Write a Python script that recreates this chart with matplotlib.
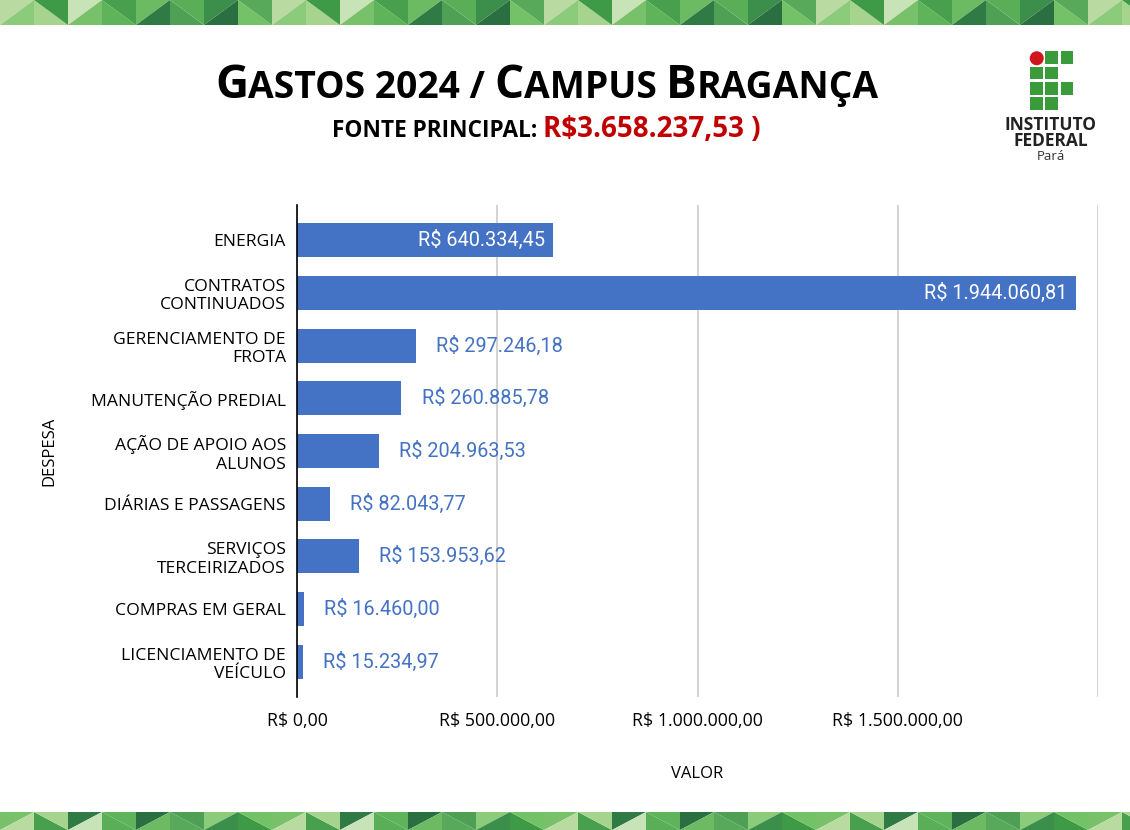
import matplotlib
matplotlib.use("Agg")
import matplotlib.pyplot as plt
from matplotlib.patches import Polygon, Rectangle, Circle
from matplotlib.ticker import FuncFormatter

# dados
categorias = ["ENERGIA", "CONTRATOS\nCONTINUADOS", "GERENCIAMENTO DE\nFROTA",
              "MANUTENÇÃO PREDIAL", "AÇÃO DE APOIO AOS\nALUNOS", "DIÁRIAS E PASSAGENS",
              "SERVIÇOS\nTERCEIRIZADOS", "COMPRAS EM GERAL", "LICENCIAMENTO DE\nVEÍCULO"]
valores = [640334.45, 1944060.81, 297246.18, 260885.78, 204963.53,
           82043.77, 153953.62, 16460.00, 15234.97]
ticks_x = [0, 500000, 1000000, 1500000]
total = "R$3.658.237,53 )"

AZUL = "#4472c4"
W, H = 1130, 830


def brl(v, casas=2):
    s = f"{v:,.{casas}f}"
    return "R$ " + s.replace(",", "X").replace(".", ",").replace("X", ".")


fig = plt.figure(figsize=(W / 100, H / 100), dpi=100)

# fundo / decoracao em coordenadas de pixel
bg = fig.add_axes([0, 0, 1, 1], zorder=0)
bg.set_xlim(0, W)
bg.set_ylim(H, 0)
bg.axis("off")

verdes = ["#b9dba1", "#8ccb7a", "#a6d48f", "#3f9a48", "#c9e3b8", "#79c06a",
          "#5fb35a", "#48a04f", "#6cbb62", "#2f7a45", "#4f9f55", "#5aae58",
          "#3c8f4a", "#2b6e42", "#74c267", "#58a95a"]


def faixa(y0, y1, desloc):
    lado = 34
    n = W // lado + 2
    for i in range(n):
        x0 = i * lado
        c1 = verdes[(i * 2 + desloc) % len(verdes)]
        c2 = verdes[(i * 2 + 1 + desloc * 3) % len(verdes)]
        if i % 2 == 0:
            t1 = [(x0, y0), (x0 + lado, y0), (x0, y1)]
            t2 = [(x0 + lado, y0), (x0 + lado, y1), (x0, y1)]
        else:
            t1 = [(x0, y0), (x0 + lado, y1), (x0, y1)]
            t2 = [(x0, y0), (x0 + lado, y0), (x0 + lado, y1)]
        bg.add_patch(Polygon(t1, closed=True, color=c1, lw=0))
        bg.add_patch(Polygon(t2, closed=True, color=c2, lw=0))


faixa(0, 25, 0)
faixa(812, 830, 5)

# logo IFPA
VERDE_IF = "#3a9b3a"
q = 12.5
passo = 15.3
lx, ly = 1030, 51.5
grade = [(0, 1), (0, 2), (1, 0), (1, 1), (2, 0), (2, 1), (2, 2), (3, 0), (3, 1)]
for r, c in grade:
    bg.add_patch(Rectangle((lx + c * passo, ly + r * passo), q, q,
                           color=VERDE_IF, lw=0))
bg.add_patch(Circle((lx + q / 2 + 0.5, ly + q / 2 + 0.5), 7.0, color="#d0141c", lw=0))
bg.text(1051, 125, "INSTITUTO", ha="center", va="center", fontsize=12.5,
        fontweight="bold", family="Open Sans", color="#222222")
bg.text(1051, 141, "FEDERAL", ha="center", va="center", fontsize=12.5,
        fontweight="bold", family="Open Sans", color="#222222")
bg.text(1051, 157, "Pará", ha="center", va="center", fontsize=9.5,
        family="Open Sans", color="#333333")

# titulo em versalete
renderer = fig.canvas.get_renderer()


def linha_texto(pecas, xc, yb):
    objs = []
    for txt, tam, cor, peso in pecas:
        t = bg.text(0, yb, txt, fontsize=tam, color=cor, fontweight=peso,
                    family="Open Sans", va="baseline", ha="left")
        objs.append(t)
    larg = [o.get_window_extent(renderer).width for o in objs]
    x = xc - sum(larg) / 2
    for o, w in zip(objs, larg):
        o.set_x(x)
        x += w


G, P = 33, 26.8
linha_texto([("G", G, "black", "bold"), ("ASTOS 2024 / ", P, "black", "bold"),
             ("C", G, "black", "bold"), ("AMPUS ", P, "black", "bold"),
             ("B", G, "black", "bold"), ("RAGANÇA", P, "black", "bold")],
            547, 98)
linha_texto([("FONTE PRINCIPAL: ", 16.3, "black", "bold"),
             (total, 20, "#c00000", "bold")], 546, 137)

# grafico
ax = fig.add_axes([297 / W, 1 - 697 / H, (1098 - 297) / W, (697 - 205) / H], zorder=1)
ax.patch.set_alpha(0)
pos = list(range(len(categorias)))
barras = ax.barh(pos, valores, height=0.65, color=AZUL, zorder=2)
ax.set_xlim(0, 2000000)
ax.set_ylim(len(categorias) - 0.33, -0.67)
ax.set_xticks(ticks_x)
ax.set_xticks([2000000], minor=True)
ax.xaxis.set_major_formatter(FuncFormatter(lambda v, p: brl(v)))
ax.set_yticks(pos)
ax.set_yticklabels(categorias, linespacing=1.2)
ax.grid(axis="x", which="both", color="#cccccc", lw=1.2, zorder=0)
for s in ["top", "right", "bottom"]:
    ax.spines[s].set_visible(False)
ax.spines["left"].set_color("black")
ax.spines["left"].set_linewidth(1.2)
ax.spines["left"].set_zorder(3)
ax.tick_params(axis="both", which="both", length=0)
ax.tick_params(axis="y", pad=8, labelsize=12.6)
ax.tick_params(axis="x", pad=11, labelsize=12.8)
for lab in ax.get_xticklabels() + ax.get_yticklabels():
    lab.set_family("Open Sans")

for i, v in enumerate(valores):
    if v > 500000:
        ax.text(v - 20000, i, brl(v), ha="right", va="center", color="white",
                fontsize=14.3, family="Roboto", zorder=3)
    else:
        ax.text(v + 50000, i, brl(v), ha="left", va="center", color=AZUL,
                fontsize=14.3, family="Roboto", zorder=3)

ax.set_xlabel("VALOR", family="Open Sans", fontsize=12, labelpad=26)
ax.set_ylabel("DESPESA", family="Open Sans", fontsize=12, labelpad=24)

fig.savefig("out.png", dpi=100)
